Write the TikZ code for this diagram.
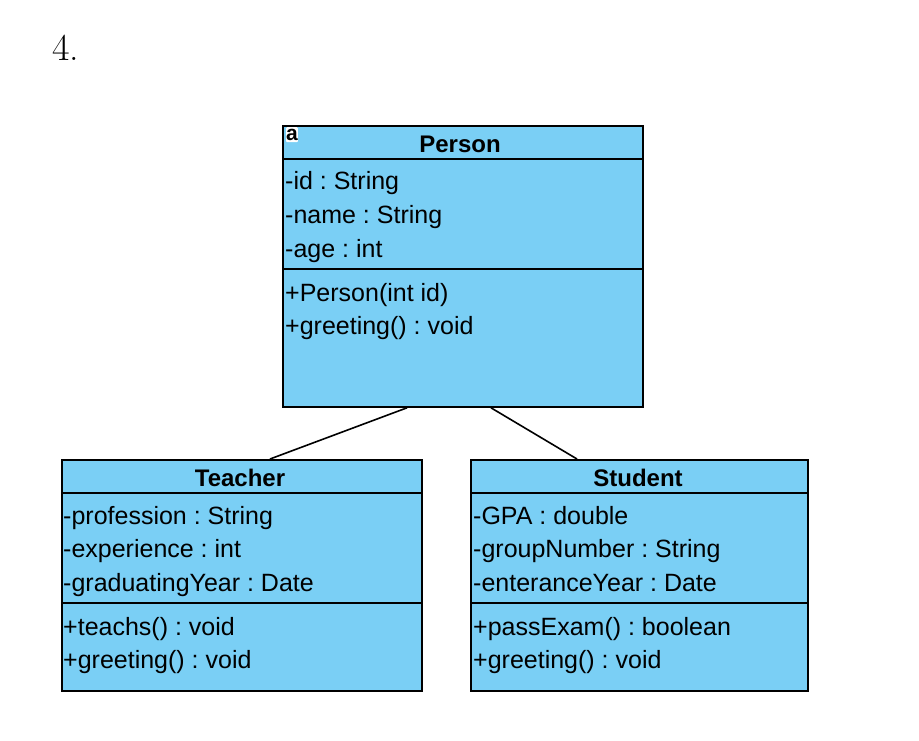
\documentclass[tikz,border=0pt]{standalone}
\usepackage{fontspec}
\setsansfont{Liberation Sans}
\usetikzlibrary{calc}
\frenchspacing
\definecolor{classfill}{RGB}{122,207,245}
\tikzset{
  classbox/.style={draw=black, line width=1.8pt, fill=classfill, rectangle, inner sep=0pt, anchor=north west},
  divider/.style={draw=black, line width=1.8pt},
  member/.style={anchor=base west, inner sep=0pt, font=\sffamily\fontsize{25}{25}\selectfont},
  classname/.style={anchor=base, inner sep=0pt, font=\sffamily\bfseries\fontsize{24}{24}\selectfont},
  link/.style={draw=black, line width=1.6pt}
}
\begin{document}
\begin{tikzpicture}[x=1pt, y=-1pt]
\useasboundingbox (0,0) rectangle (919,740);

% exercise number
\node[anchor=base west, inner sep=0pt, font=\fontsize{38}{38}\selectfont] (num) at (52,60) {4.};

% Person class
\node[classbox, minimum width=360pt, minimum height=281pt] (person) at (282,125) {};
\draw[divider] (282,159) -- (642,159);
\draw[divider] (282,269) -- (644,269);
\node[fill=white, rounded corners=1pt, inner sep=0pt, minimum width=11pt, minimum height=15pt, anchor=north west,
      font=\sffamily\bfseries\fontsize{21}{21}\selectfont] (icon) at (286,127) {a};
\node[classname] (personname) at (460,152) {Person};
\node[member] (p1) at (285,189) {-id : String};
\node[member] (p2) at (285,223) {-name : String};
\node[member] (p3) at (285,257) {-age : int};
\node[member] (p4) at (285,301) {+Person(int id)};
\node[member] (p5) at (285,334) {+greeting() : void};

% Teacher class
\node[classbox, minimum width=360pt, minimum height=231pt] (teacher) at (61,459) {};
\draw[divider] (61,493) -- (421,493);
\draw[divider] (61,603) -- (421,603);
\node[classname] (teachername) at (240,486) {Teacher};
\node[member] (t1) at (63,524) {-profession : String};
\node[member] (t2) at (63,557) {-experience : int};
\node[member] (t3) at (63,591) {-graduatingYear : Date};
\node[member] (t4) at (63,635) {+teachs() : void};
\node[member] (t5) at (63,668) {+greeting() : void};

% Student class
\node[classbox, minimum width=337pt, minimum height=231pt] (student) at (470,459) {};
\draw[divider] (470,493) -- (807,493);
\draw[divider] (470,603) -- (807,603);
\node[classname] (studentname) at (638,486) {Student};
\node[member] (s1) at (473,524) {-GPA : double};
\node[member] (s2) at (473,557) {-groupNumber : String};
\node[member] (s3) at (473,591) {-enteranceYear : Date};
\node[member] (s4) at (473,635) {+passExam() : boolean};
\node[member] (s5) at (473,668) {+greeting() : void};

% connectors between the classes
\coordinate (pl) at ($(person.south west)+(125,0)$);
\coordinate (pr) at ($(person.south west)+(209,0)$);
\coordinate (tt) at ($(teacher.north west)+(209,0)$);
\coordinate (st) at ($(student.north west)+(107,0)$);
\draw[link] (pl) -- (tt);
\draw[link] (pr) -- (st);
\end{tikzpicture}
\end{document}
